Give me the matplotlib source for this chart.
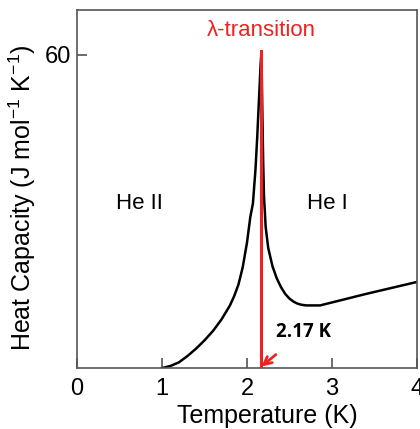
import numpy as np
import matplotlib
matplotlib.use("Agg")
import matplotlib.pyplot as plt

plt.rcParams['font.family'] = ['Liberation Sans', 'DejaVu Sans']
plt.rcParams['mathtext.fontset'] = 'custom'
plt.rcParams['mathtext.rm'] = 'Liberation Sans'

# heat capacity of liquid helium
temp = [1.0, 1.1, 1.2, 1.3, 1.4, 1.5, 1.6, 1.7, 1.8, 1.85, 1.9, 1.95, 2.0,
        2.04, 2.07, 2.1, 2.12, 2.14, 2.16, 2.17,
        2.18, 2.19, 2.2, 2.22, 2.25, 2.3, 2.35, 2.4, 2.45, 2.5, 2.55, 2.6,
        2.65, 2.7, 2.86, 3.4, 4.0]
heat_cap = [0, 0.4, 1.1, 2.3, 3.7, 5.3, 7.1, 9.3, 12.0, 13.8, 16.0, 19.3, 24.0,
            29.0, 31.5, 38, 44, 51, 58, 60.5,
            50, 40, 33, 27, 23, 19.5, 17.2, 15.5, 14.2, 13.3, 12.7, 12.3,
            12.1, 12.0, 12.0, 14.2, 16.5]

t_lambda = 2.17
x_ticks = [0, 1, 2, 3, 4]
y_ticks = [60]

fig = plt.figure(figsize=(4.2, 4.29), dpi=100)
ax = fig.add_axes([0.183, 0.142, 0.81, 0.835])

ax.plot(temp, heat_cap, color='black', lw=1.8, zorder=2)
ax.plot([t_lambda, t_lambda], [0, 60.7], color='#ee2222', lw=2.2, zorder=3)

ax.set_xlim(0, 4)
ax.set_ylim(0, 68.6)
ax.set_xticks(x_ticks)
ax.set_yticks(y_ticks)
ax.tick_params(direction='in', length=7, width=1.1, color='#444444',
               labelsize=17)
ax.tick_params(axis='x', pad=7)
ax.tick_params(axis='y', pad=4)
for s in ax.spines.values():
    s.set_color('#555555')
    s.set_linewidth(1.2)

ax.set_xlabel('Temperature (K)', fontsize=18)
ax.set_ylabel('Heat Capacity (J mol$^{-1}$ K$^{-1}$)', fontsize=18)
ax.xaxis.set_label_coords(0.56, -0.1)
ax.yaxis.set_label_coords(-0.115, 0.476)

ax.text(2.17, 64.7, 'λ-transition', color='#ee2222', fontsize=16,
        ha='center', va='center')
ax.text(0.74, 31.6, 'He II', fontsize=16, ha='center', va='center')
ax.text(2.95, 31.6, 'He I', fontsize=16, ha='center', va='center')

ax.annotate('2.17 K', xy=(t_lambda, 0.3), xytext=(2.66, 6.9),
            fontsize=13.5, fontweight='bold', family='Open Sans',
            ha='center', va='center',
            arrowprops=dict(arrowstyle='->', color='#ee2222', lw=2,
                            shrinkA=11, shrinkB=0, mutation_scale=14))

fig.savefig('out.png', dpi=100)
